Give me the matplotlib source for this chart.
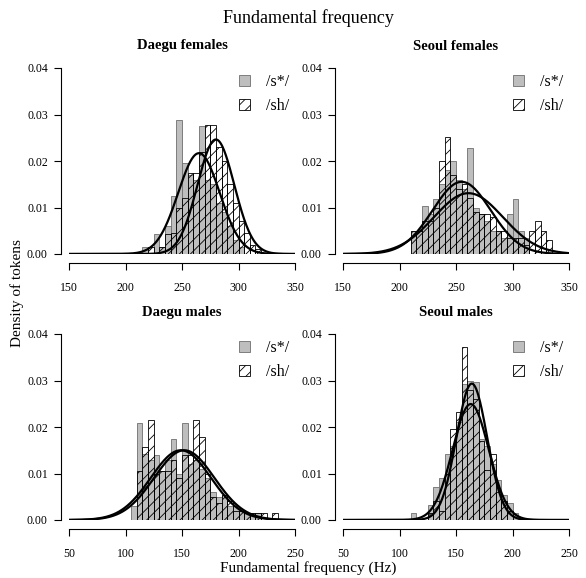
import numpy as np
import matplotlib.pyplot as plt
from matplotlib.patches import Patch

plt.rcParams['font.family'] = ['Liberation Serif', 'DejaVu Serif']
plt.rcParams['hatch.linewidth'] = 0.6

# densities of each 5 Hz bin (left edge of bin)
df_bins = np.arange(215, 320, 5)
df_s = [0.0014, 0.0, 0.0043, 0.0014, 0.006, 0.0124, 0.0289, 0.0196, 0.017, 0.016, 0.0275,
        0.016, 0.015, 0.011, 0.009, 0.006, 0.003, 0.0015, 0.0, 0.0, 0.0]
df_sh = [0.0, 0.0015, 0.0, 0.0015, 0.0043, 0.0045, 0.010, 0.012, 0.0175, 0.0175, 0.022,
         0.0277, 0.0277, 0.023, 0.020, 0.015, 0.011, 0.007, 0.0045, 0.002, 0.001]

sf_bins = np.arange(210, 335, 5)
sf_s = [0.005, 0.005, 0.0103, 0.0085, 0.0119, 0.015, 0.018, 0.020, 0.016, 0.014, 0.0228,
        0.010, 0.0085, 0.007, 0.005, 0.005, 0.0035, 0.0086, 0.0119, 0.005, 0.0035, 0.0,
        0.0, 0.0, 0.0]
sf_sh = [0.005, 0.005, 0.007, 0.007, 0.010, 0.0199, 0.0252, 0.017, 0.014, 0.015, 0.012,
         0.009, 0.0086, 0.0086, 0.008, 0.005, 0.005, 0.0035, 0.0035, 0.0035, 0.002, 0.005,
         0.007, 0.005, 0.003]

dm_bins = np.arange(105, 235, 5)
dm_s = [0.003, 0.0209, 0.0143, 0.013, 0.014, 0.0105, 0.013, 0.0175, 0.010, 0.0209, 0.012,
        0.013, 0.011, 0.009, 0.006, 0.005, 0.0053, 0.003, 0.003, 0.002, 0.0016, 0.0016,
        0.0016, 0.0, 0.0, 0.0]
dm_sh = [0.0, 0.0105, 0.0157, 0.0216, 0.010, 0.0105, 0.0105, 0.013, 0.009, 0.014, 0.014,
         0.0216, 0.0178, 0.010, 0.005, 0.0036, 0.0053, 0.004, 0.002, 0.002, 0.0016, 0.0016,
         0.0016, 0.0016, 0.0, 0.0016]

sm_bins = np.arange(110, 205, 5)
sm_s = [0.0016, 0.0, 0.0, 0.0032, 0.007, 0.009, 0.0143, 0.016, 0.021, 0.0292, 0.030,
        0.0296, 0.0175, 0.016, 0.012, 0.0085, 0.0053, 0.0036, 0.0016]
sm_sh = [0.0, 0.0, 0.0, 0.0016, 0.004, 0.002, 0.010, 0.0196, 0.0232, 0.0372, 0.028,
         0.026, 0.017, 0.0107, 0.0143, 0.006, 0.004, 0.002, 0.0]

# fitted normal curves: (mean, sd) for /s*/ and /sh/
df_fit = [(265, 18.4), (280, 16.2)]
sf_fit = [(255, 25.7), (261, 30.5)]
dm_fit = [(149, 26.6), (152, 26.6)]
sm_fit = [(164, 13.6), (163, 16.0)]


def dnorm(x, m, s):
    return np.exp(-0.5 * ((x - m) / s) ** 2) / (s * np.sqrt(2 * np.pi))


W, H = 586, 578
fig = plt.figure(figsize=(W / 100, H / 100), dpi=100)

panels = [
    ("Daegu females", df_bins, df_s, df_sh, df_fit, (150, 350), 69, 254),
    ("Seoul females", sf_bins, sf_s, sf_sh, sf_fit, (150, 350), 343, 254),
    ("Daegu males", dm_bins, dm_s, dm_sh, dm_fit, (50, 250), 69, 520),
    ("Seoul males", sm_bins, sm_s, sm_sh, sm_fit, (50, 250), 343, 520),
]

for title, bins, s_vals, sh_vals, fit, xr, px, py in panels:
    ax = fig.add_axes([px / W, (H - py) / H, 226 / W, 186 / H])
    ax.bar(bins, s_vals, width=5, align='edge', color='#bebebe',
           edgecolor='#6e6e6e', linewidth=0.6)
    ax.bar(bins, sh_vals, width=5, align='edge', fill=False, hatch='///',
           edgecolor='black', linewidth=0.6)
    xs = np.linspace(xr[0], xr[1], 400)
    for m, s in fit:
        ax.plot(xs, dnorm(xs, m, s), color='black', linewidth=1.6)
    ax.set_xlim(xr)
    ax.set_ylim(0, 0.04)
    ax.set_xticks(np.arange(xr[0], xr[1] + 1, 50))
    ax.set_yticks([0, 0.01, 0.02, 0.03, 0.04])
    ax.set_yticklabels(['0.00', '0.01', '0.02', '0.03', '0.04'],
                       rotation=90, va='center')
    for side in ['top', 'right']:
        ax.spines[side].set_visible(False)
    ax.spines['left'].set_bounds(0, 0.04)
    ax.spines['bottom'].set_bounds(xr[0], xr[1])
    ax.spines['left'].set_position(('outward', 5.8))
    ax.spines['bottom'].set_position(('outward', 6.5))
    ax.spines['left'].set_linewidth(0.8)
    ax.spines['bottom'].set_linewidth(0.8)
    ax.tick_params(length=5, width=0.8, labelsize=8.5, pad=4.5)
    ax.tick_params(axis='x', pad=9)
    ax.patch.set_alpha(0)
    fig.text((px + 113) / W, 1 - (py - 208) / H, title, ha='center', va='center',
             fontsize=10.5, fontweight='bold')
    handles = [Patch(facecolor='#bebebe', edgecolor='#6e6e6e', linewidth=0.6),
               Patch(facecolor='white', edgecolor='black', hatch='///', linewidth=0.6)]
    ax.legend(handles, ['/s*/', '/sh/'], loc='upper left', bbox_to_anchor=(0.75, 0.968),
              frameon=False, fontsize=11.5, handlelength=0.75, handleheight=0.7,
              handletextpad=1.0, labelspacing=0.5, borderpad=0, borderaxespad=0)

fig.text(308 / W, 1 - 18 / H, "Fundamental frequency", ha='center', va='center', fontsize=13)
fig.text(308 / W, 1 - 568 / H, "Fundamental frequency (Hz)", ha='center', va='center',
         fontsize=11)
fig.text(17 / W, 1 - 293 / H, "Density of tokens", ha='center', va='center',
         rotation=90, fontsize=11)

fig.savefig('out.png', dpi=100)
